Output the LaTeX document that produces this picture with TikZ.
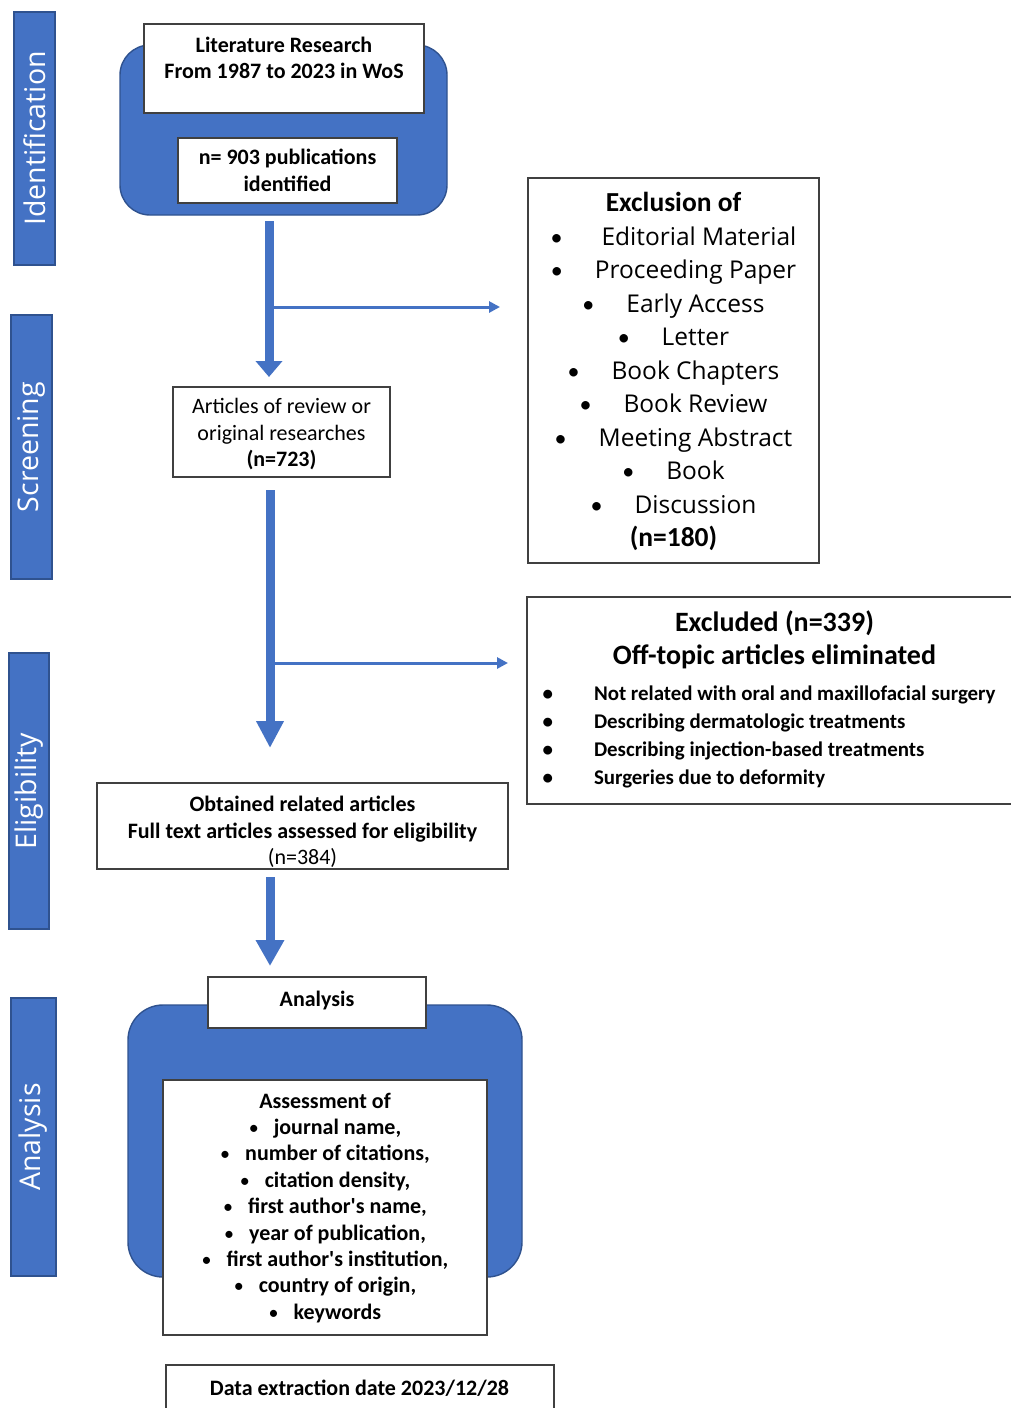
\documentclass[tikz,border=0pt]{standalone}
\usepackage{fontspec}
\setmainfont{Carlito}
\newfontfamily\osans{Open Sans}
\usetikzlibrary{arrows.meta,calc}
\definecolor{bblue}{HTML}{4472C4}
\definecolor{dblue}{HTML}{2F528F}
\definecolor{boxline}{HTML}{404040}
\newcommand{\smbul}{{\mdseries\fontsize{20}{20}\selectfont•}}
\newcommand{\exbul}{{\rmfamily\mdseries\fontsize{24}{24}\selectfont•}}
\begin{document}
\begin{tikzpicture}[x=1pt,y=-1pt,
 every node/.style={inner sep=0pt, outer sep=0pt},
 sidebox/.style={draw=dblue, line width=1.4pt, fill=bblue, rotate=90, text=white,
   font=\osans\fontsize{28.5}{30}\selectfont},
 bluebox/.style={draw=dblue, line width=1.4pt, fill=bblue},
 wbox/.style={draw=boxline, line width=1.2pt, fill=white},
 txt/.style={align=center, font=\fontsize{22}{26.5}\selectfont},
 bigarrow/.style={draw=bblue, line width=9pt},
 thinarrow/.style={draw=bblue, line width=3pt, -{Triangle[width=11pt,length=11pt]}},
]
\useasboundingbox (0,0) rectangle (1011,1408);

% side labels
\node[sidebox, minimum width=253pt, minimum height=41pt] (sid) at (34.5,138.5) {Identification};
\node[sidebox, minimum width=264pt, minimum height=41pt] (sscr) at (31.5,447) {Screening};
\node[sidebox, minimum width=276pt, minimum height=40pt] (selig) at (29,791) {Eligibility};
\node[sidebox, minimum width=278pt, minimum height=45pt] (sana) at (33.5,1137) {Analysis};

% identification
\node[bluebox, rounded corners=30pt, minimum width=327pt, minimum height=170pt] (idbox) at (283.5,130) {};
\node[wbox, minimum width=280pt, minimum height=89pt] (lit) at (284,68.5) {};
\node[txt, font=\fontsize{22}{26.5}\selectfont\bfseries] (littxt) at (284,60) {\strut Literature Research\\From 1987 to 2023 in WoS\strut};
\node[wbox, minimum width=219pt, minimum height=65pt] (pub) at (287.5,170.5) {};
\node[txt, font=\fontsize{22}{26.5}\selectfont\bfseries] (pubtxt) at (287.5,172.5) {\strut n= 903 publications\\identified\strut};

% screening
\node[wbox, minimum width=217pt, minimum height=90pt] (scr) at (281.5,432) {};
\node[txt] (scrtxt) at (281.5,435) {\strut Articles of review or\\original researches\\\textbf{(n=723)}\strut};

% exclusion box
\node[wbox, minimum width=291pt, minimum height=385pt] (excl) at (673.5,370.5) {};
\node[align=center, font=\osans\fontsize{24.5}{33.5}\selectfont] (excltxt) at (673.5,372.5) {%
{\fontsize{27.5}{33.5}\selectfont\rmfamily\bfseries\strut Exclusion of}\\
\exbul\hspace{39pt}Editorial Material\\
\exbul\hspace{32pt}Proceeding Paper\\
\exbul\hspace{32pt}Early Access\\
\exbul\hspace{32pt}Letter\\
\exbul\hspace{32pt}Book Chapters\\
\exbul\hspace{32pt}Book Review\\
\exbul\hspace{32pt}Meeting Abstract\\
\exbul\hspace{32pt}Book\\
\exbul\hspace{32pt}Discussion\\
{\fontsize{27.5}{33.5}\selectfont\rmfamily\bfseries (n=180)\strut}};

% excluded box
\node[wbox, minimum width=487pt, minimum height=207pt] (excl2) at (770.5,700.5) {};
\node[align=center, font=\fontsize{28}{33}\selectfont\bfseries] (excl2title) at (774.5,641) {\strut Excluded (n=339)\\Off-topic articles eliminated\strut};
\node[align=left, anchor=west, font=\fontsize{20.9}{27.7}\selectfont\bfseries] (excl2items) at (542.5,737) {%
\strut\makebox[51.5pt][l]{•}Not related with oral and maxillofacial surgery\\
\makebox[51.5pt][l]{•}Describing dermatologic treatments\\
\makebox[51.5pt][l]{•}Describing injection-based treatments\\
\makebox[51.5pt][l]{•}Surgeries due to deformity\strut};

% eligibility
\node[wbox, minimum width=411pt, minimum height=86pt] (elig) at (302.5,826) {};
\node[txt] (eligtxt) at (302.5,833) {\strut\textbf{Obtained related articles}\\\textbf{Full text articles assessed for eligibility}\\(n=384)\strut};

% analysis
\node[bluebox, rounded corners=35pt, minimum width=394pt, minimum height=272pt] (anbox) at (325,1141) {};
\node[wbox, minimum width=218pt, minimum height=51pt] (anl) at (317,1002.5) {};
\node[txt, font=\fontsize{22}{26.5}\selectfont\bfseries] (anltxt) at (317,1000) {Analysis};
\node[wbox, minimum width=324pt, minimum height=255pt] (assess) at (325,1207.5) {};
\node[txt, font=\fontsize{22}{26.4}\selectfont\bfseries] (assesstxt) at (325,1208.5) {%
\strut Assessment of\\
\smbul\hspace{15pt}journal name,\\
\smbul\hspace{15pt}number of citations,\\
\smbul\hspace{15pt}citation density,\\
\smbul\hspace{15pt}first author\textquotesingle s name,\\
\smbul\hspace{15pt}year of publication,\\
\smbul\hspace{15pt}first author\textquotesingle s institution,\\
\smbul\hspace{15pt}country of origin,\\
\smbul\hspace{15pt}keywords\strut};

% data extraction
\node[wbox, minimum width=388pt, minimum height=47pt] (data) at (360,1388.5) {};
\node[txt, font=\fontsize{22}{26.5}\selectfont\bfseries] (datatxt) at (359.5,1388) {Data extraction date 2023/12/28};

% arrows
\draw[bigarrow, -{Triangle[width=26pt,length=16pt]}] ($(idbox.south)+(-14.5,6)$) -- ($(scr.north)+(-12.5,-10)$);
\draw[bigarrow, -{Triangle[width=26pt,length=27pt]}] ($(scr.south)+(-11.5,13)$) -- ($(elig.north)+(-32.5,-35)$);
\draw[bigarrow, -{Triangle[width=27pt,length=26pt]}] ($(elig.south)+(-32.5,8)$) -- ($(anl.north)+(-47,-11)$);

\coordinate (br1) at (273,307);
\coordinate (br2) at (274,663);
\draw[thinarrow] (br1) -- ($(br1 -| excl.west)+(-28,0)$);
\draw[thinarrow] (br2) -- ($(br2 -| excl2.west)+(-19,0)$);
\end{tikzpicture}
\end{document}
